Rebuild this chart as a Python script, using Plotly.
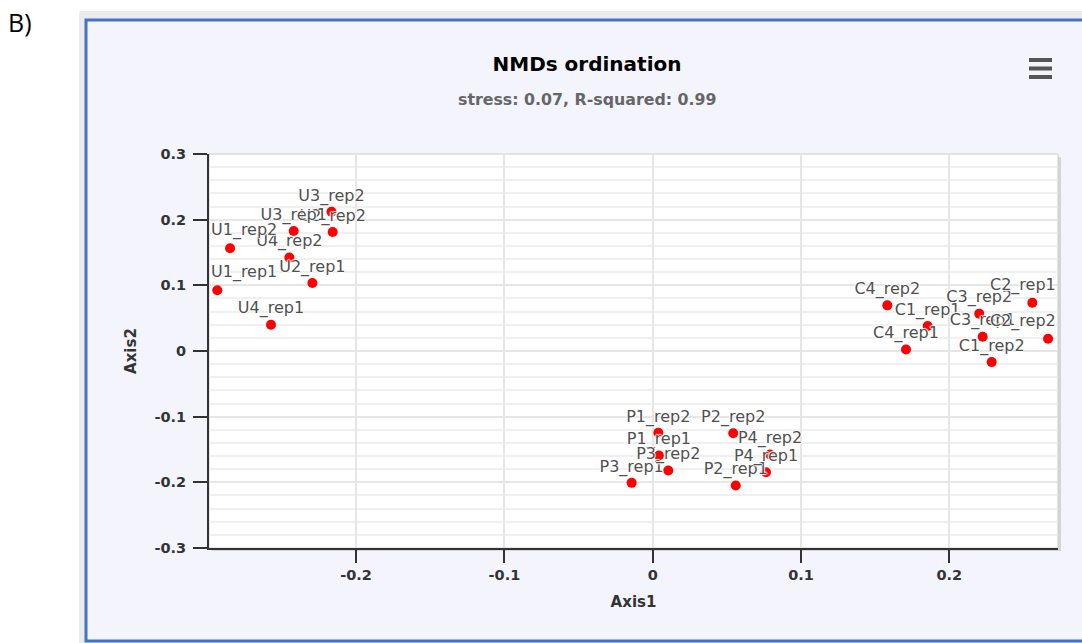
import plotly.graph_objects as go

# ---------------- data ----------------
samples = [
    "U1_rep1", "U1_rep2", "U2_rep1", "U2_rep2", "U3_rep1", "U3_rep2", "U4_rep1", "U4_rep2",
    "P1_rep1", "P1_rep2", "P2_rep1", "P2_rep2", "P3_rep1", "P3_rep2", "P4_rep1", "P4_rep2",
    "C1_rep1", "C1_rep2", "C2_rep1", "C2_rep2", "C3_rep1", "C3_rep2", "C4_rep1", "C4_rep2",
]
axis1 = [
    -0.2936, -0.2850, -0.2295, -0.2158, -0.2421, -0.2166, -0.2574, -0.2450,
    0.0042, 0.0038, 0.0560, 0.0543, -0.0142, 0.0105, 0.0764, 0.0791,
    0.1854, 0.2286, 0.2560, 0.2666, 0.2225, 0.2202, 0.1708, 0.1582,
]
axis2 = [
    0.0924, 0.1564, 0.1035, 0.1813, 0.1828, 0.2120, 0.0401, 0.1422,
    -0.1591, -0.1245, -0.2049, -0.1252, -0.2008, -0.1820, -0.1846, -0.1576,
    0.0380, -0.0169, 0.0736, 0.0187, 0.0218, 0.0569, 0.0024, 0.0695,
]
x_tick_vals = [-0.2, -0.1, 0.0, 0.1, 0.2]
x_tick_text = ["-0.2", "-0.1", "0", "0.1", "0.2"]
y_tick_vals = [-0.3, -0.2, -0.1, 0.0, 0.1, 0.2, 0.3]
y_tick_text = ["-0.3", "-0.2", "-0.1", "0", "0.1", "0.2", "0.3"]
title_text = "NMDs ordination"
subtitle_text = "stress: 0.07, R-squared: 0.99"
panel_label = "B)"
# labels pushed inside the plot area (justified to its edges)
left_justified = ["U1_rep1", "U1_rep2"]
right_justified = ["C2_rep1", "C2_rep2"]

# ---------------- layout helpers ----------------
W, H = 1082, 643
L, R, T, B = 209, 24, 154, 95
PW, PH = W - L - R, H - T - B


def px(x):
    return (x - L) / PW


def py(y):
    return (H - B - y) / PH


FONT = "DejaVu Sans"
OUTLINE = "1px 0 1px #fff, -1px 0 1px #fff, 0 1px 1px #fff, 0 -1px 1px #fff"
LABEL_FONT = dict(family=FONT, size=16, color="#505050", shadow=OUTLINE)

just = set(left_justified) | set(right_justified)
trace_text = ["" if s in just else s for s in samples]

fig = go.Figure()
fig.add_trace(go.Scatter(
    x=axis1, y=axis2, mode="markers+text", text=trace_text,
    textposition="top center", textfont=LABEL_FONT,
    marker=dict(color="#ff0000", size=10, line=dict(width=0)),
    cliponaxis=False, hoverinfo="text", hovertext=samples, showlegend=False,
))

annotations = []
for s, xv, yv in zip(samples, axis1, axis2):
    if s in just:
        left = s in left_justified
        annotations.append(dict(
            x=0 if left else 1, xref="x domain", y=yv, yref="y",
            text=s, showarrow=False, xanchor="left" if left else "right",
            yanchor="bottom", yshift=6, font=LABEL_FONT,
        ))

annotations += [
    dict(x=px(587), y=py(99), xref="paper", yref="paper", text="<b>" + subtitle_text + "</b>",
         showarrow=False, xanchor="center", yanchor="middle",
         font=dict(family=FONT, size=15.8, color="#666666")),
    dict(x=px(20), y=py(22), xref="paper", yref="paper", text=panel_label,
         showarrow=False, xanchor="center", yanchor="middle",
         font=dict(family="Open Sans", size=25, color="#000000")),
]

shapes = [
    # outer frame shadow
    dict(type="rect", xref="paper", yref="paper", x0=px(79), x1=px(1110), y0=py(660), y1=py(11),
         fillcolor="#ebebeb", line=dict(width=0), layer="below"),
    # outer frame
    dict(type="rect", xref="paper", yref="paper", x0=px(86), x1=px(1110), y0=py(641), y1=py(20),
         fillcolor="#f4f4fc", line=dict(color="#4472c4", width=3), layer="below"),
    # plot shadow
    dict(type="rect", xref="paper", yref="paper", x0=px(212), x1=px(1061), y0=py(551), y1=py(157),
         fillcolor="#d6d6d6", line=dict(width=0), layer="below"),
    # plot background
    dict(type="rect", xref="paper", yref="paper", x0=0, x1=1, y0=0, y1=1,
         fillcolor="#ffffff", line=dict(color="#cccccc", width=1), layer="below"),
]
# menu (hamburger) icon
for yy in (60, 68.5, 77):
    shapes.append(dict(type="line", xref="paper", yref="paper", x0=px(1029), x1=px(1052),
                       y0=py(yy), y1=py(yy), line=dict(color="#555555", width=4), layer="above"))

axis_common = dict(
    showline=True, linecolor="#333333", linewidth=2, ticks="outside", tickwidth=2,
    tickcolor="#333333", zeroline=False, showgrid=True, gridcolor="#e6e6e6", gridwidth=1.5,
    tickfont=dict(family=FONT, size=14.5, color="#333333", weight="bold"),
    fixedrange=True,
)

fig.update_layout(
    width=W, height=H, autosize=False,
    margin=dict(l=L, r=R, t=T, b=B, pad=0),
    paper_bgcolor="#ffffff", plot_bgcolor="#ffffff",
    title=dict(text="<b>" + title_text + "</b>", x=587 / W, xref="container", xanchor="center",
               y=1 - 64 / H, yref="container", yanchor="middle",
               font=dict(family=FONT, size=20, color="#000000")),
    xaxis=dict(range=[-0.2992, 0.2733], tickvals=x_tick_vals, ticktext=x_tick_text, ticklen=13,
               title=dict(text="<b>Axis1</b>", standoff=14,
                          font=dict(family=FONT, size=15, color="#333333")),
               **axis_common),
    yaxis=dict(range=[-0.3, 0.3], tickvals=y_tick_vals, ticktext=y_tick_text, ticklen=14,
               ticklabelstandoff=4,
               minor=dict(dtick=0.02, tick0=0, showgrid=True, gridcolor="#f0f0f0", gridwidth=1.5, ticks=""),
               title=dict(text="<b>Axis2</b>", standoff=14,
                          font=dict(family=FONT, size=15, color="#333333")),
               **axis_common),
    shapes=shapes,
    annotations=annotations,
    showlegend=False,
)

fig.write_html("out.html", config={"displayModeBar": False},
               post_script="document.body.style.margin='0';document.body.style.overflow='hidden';")
